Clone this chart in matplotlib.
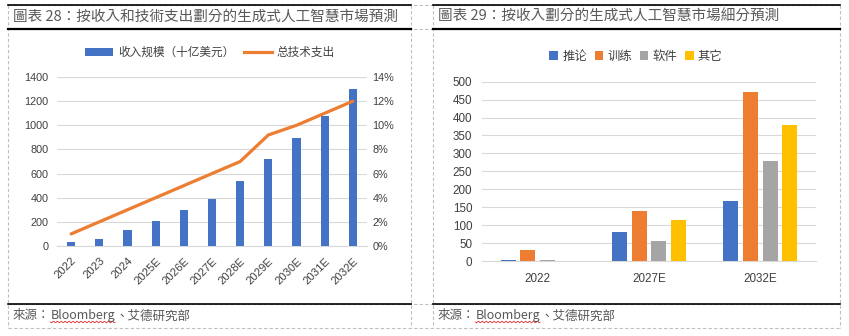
import matplotlib
matplotlib.use('Agg')
import matplotlib.pyplot as plt
import numpy as np
from matplotlib.lines import Line2D
from matplotlib.patches import Patch
from matplotlib.ticker import FuncFormatter

# ---- data ----
years = ['2022', '2023', '2024', '2025E', '2026E', '2027E', '2028E',
         '2029E', '2030E', '2031E', '2032E']
revenue = [36, 58, 135, 207, 298, 389, 538, 720, 897, 1079, 1300]
tech_share = [1.0, 2.0, 3.0, 4.0, 5.0, 6.0, 7.0, 9.2, 10.0, 11.0, 12.0]

seg_years = ['2022', '2027E', '2032E']
inference = [3, 82, 167]
training = [31, 140, 471]
software = [3, 56, 279]
other = [0, 114, 380]
seg_names = ['推论', '训练', '软件', '其它']

title_left = '圖表 28：按收入和技術支出劃分的生成式人工智慧市場預測'
title_right = '圖表 29：按收入劃分的生成式人工智慧市場細分預測'
source_a = '來源：'
source_b = 'Bloomberg'
source_c = '、艾德研究部'

plt.rcParams['font.family'] = ['Liberation Sans', 'Noto Sans CJK SC']

BLUE, ORANGE, GRAY, YELLOW = '#4472C4', '#ED7D31', '#A5A5A5', '#FFC000'
GRID = '#D9D9D9'
TXT = '#404040'

W, H = 849, 336
fig = plt.figure(figsize=(W / 100, H / 100), dpi=100)

def fx(px):
    return px / W

def fy(py):
    return 1 - py / H

# ---- decoration overlay (pixel coords) ----
deco = fig.add_axes([0, 0, 1, 1], zorder=-5)
deco.set_xlim(0, W)
deco.set_ylim(H, 0)
deco.axis('off')
dash = dict(color='#BFBFBF', lw=0.8, ls=(0, (3, 2)))
for y in (5, 29, 304, 328):
    deco.plot([8, 841], [y, y], **dash)
for x in (8, 411, 433, 840):
    deco.plot([x, x], [5, 328], **dash)
for (x0, x1) in ((8, 411), (433, 840)):
    deco.plot([x0, x1], [5, 5], color='black', lw=1.2)
    deco.plot([x0, x1], [29, 29], color='black', lw=1.6)
    deco.plot([x0, x1], [304, 304], color='black', lw=1.2)

tfont = dict(family=['Noto Sans CJK TC', 'DejaVu Sans'], color='#595959', fontsize=10.5)
deco.text(13, 17, title_left, va='center', ha='left', **tfont)
deco.text(438, 17, title_right, va='center', ha='left', **tfont)

sfont = dict(family=['Noto Sans CJK TC', 'DejaVu Sans'], color='#595959', fontsize=9)
renderer = fig.canvas.get_renderer()
for x0 in (13, 438):
    ta = deco.text(x0, 316, source_a, va='center', ha='left', **sfont)
    bb = ta.get_window_extent(renderer)
    xb = x0 + bb.width
    tb = deco.text(xb, 316, source_b, va='center', ha='left', **sfont)
    bb2 = tb.get_window_extent(renderer)
    xc = xb + bb2.width
    deco.text(xc, 316, source_c, va='center', ha='left', **sfont)
    wx = np.linspace(xb, xc, 60)
    deco.plot(wx, 322 + 0.9 * np.sin((wx - xb) * 1.6), color='#E03030', lw=0.6)

# ---- left chart ----
ax1 = fig.add_axes([fx(57), fy(246), fx(367) - fx(57), fy(77) - fy(246)])
x = np.arange(len(years))
ax1.bar(x, revenue, width=0.29, color=BLUE, zorder=3)
ax1.set_xlim(-0.5, len(years) - 0.5)
ax1.set_ylim(0, 1400)
ax1.set_yticks(np.arange(0, 1401, 200))
ax1.set_xticks(x)
ax1.set_xticklabels(years, rotation=45, ha='right', rotation_mode='anchor')
ax1.tick_params(axis='both', length=0, labelsize=7.8, colors=TXT)
ax1.tick_params(axis='x', labelsize=8.1, pad=7)
ax1.tick_params(axis='y', pad=6)
ax1.grid(axis='y', color=GRID, lw=0.8, zorder=0)
ax1.set_axisbelow(True)
for s in ('top', 'left', 'right'):
    ax1.spines[s].set_visible(False)
ax1.spines['bottom'].set_color(GRID)

ax2 = ax1.twinx()
ax2.plot(x, tech_share, color=ORANGE, lw=2.3, solid_joinstyle='round',
         solid_capstyle='round', zorder=4)
ax2.set_ylim(0, 14)
ax2.set_yticks(np.arange(0, 15, 2))
ax2.yaxis.set_major_formatter(FuncFormatter(lambda v, p: f'{v:.0f}%'))
ax2.tick_params(axis='y', length=0, labelsize=7.8, colors=TXT, pad=4)
for s in ('top', 'left', 'right', 'bottom'):
    ax2.spines[s].set_visible(False)

h1 = [Patch(facecolor=BLUE, edgecolor='none'),
      Line2D([0], [0], color=ORANGE, lw=2.3)]
fig.legend(h1, ['收入规模（十亿美元）', '总技术支出'], loc='center',
           bbox_to_anchor=(fx(210), fy(53)), ncol=2, frameon=False,
           fontsize=8.4, handlelength=2.4, handleheight=0.6,
           columnspacing=0.8, handletextpad=0.4, labelcolor=TXT)

# ---- right chart ----
ax3 = fig.add_axes([fx(482), fy(261), fx(816) - fx(482), fy(81.7) - fy(261)])
xs = np.arange(len(seg_years))
step, bw = 0.177, 0.135
for i, (vals, col) in enumerate(zip([inference, training, software, other],
                                    [BLUE, ORANGE, GRAY, YELLOW])):
    ax3.bar(xs + (i - 1.5) * step, vals, width=bw, color=col, zorder=3)
ax3.set_xlim(-0.5, len(seg_years) - 0.5)
ax3.set_ylim(0, 500)
ax3.set_yticks(np.arange(0, 501, 50))
ax3.set_xticks(xs)
ax3.set_xticklabels(seg_years)
ax3.tick_params(axis='both', length=0, labelsize=8.4, colors=TXT)
ax3.tick_params(axis='y', pad=7)
ax3.tick_params(axis='x', pad=9)
ax3.grid(axis='y', color=GRID, lw=0.8, zorder=0)
ax3.set_axisbelow(True)
for s in ('top', 'left', 'right'):
    ax3.spines[s].set_visible(False)
ax3.spines['bottom'].set_color(GRID)

h3 = [Patch(facecolor=c, edgecolor='none') for c in (BLUE, ORANGE, GRAY, YELLOW)]
fig.legend(h3, seg_names, loc='center', bbox_to_anchor=(fx(636), fy(57)),
           ncol=4, frameon=False, fontsize=8.9, handlelength=0.7,
           handleheight=0.7, columnspacing=0.6, handletextpad=0.35,
           labelcolor=TXT)

fig.savefig('out.png', dpi=100)
